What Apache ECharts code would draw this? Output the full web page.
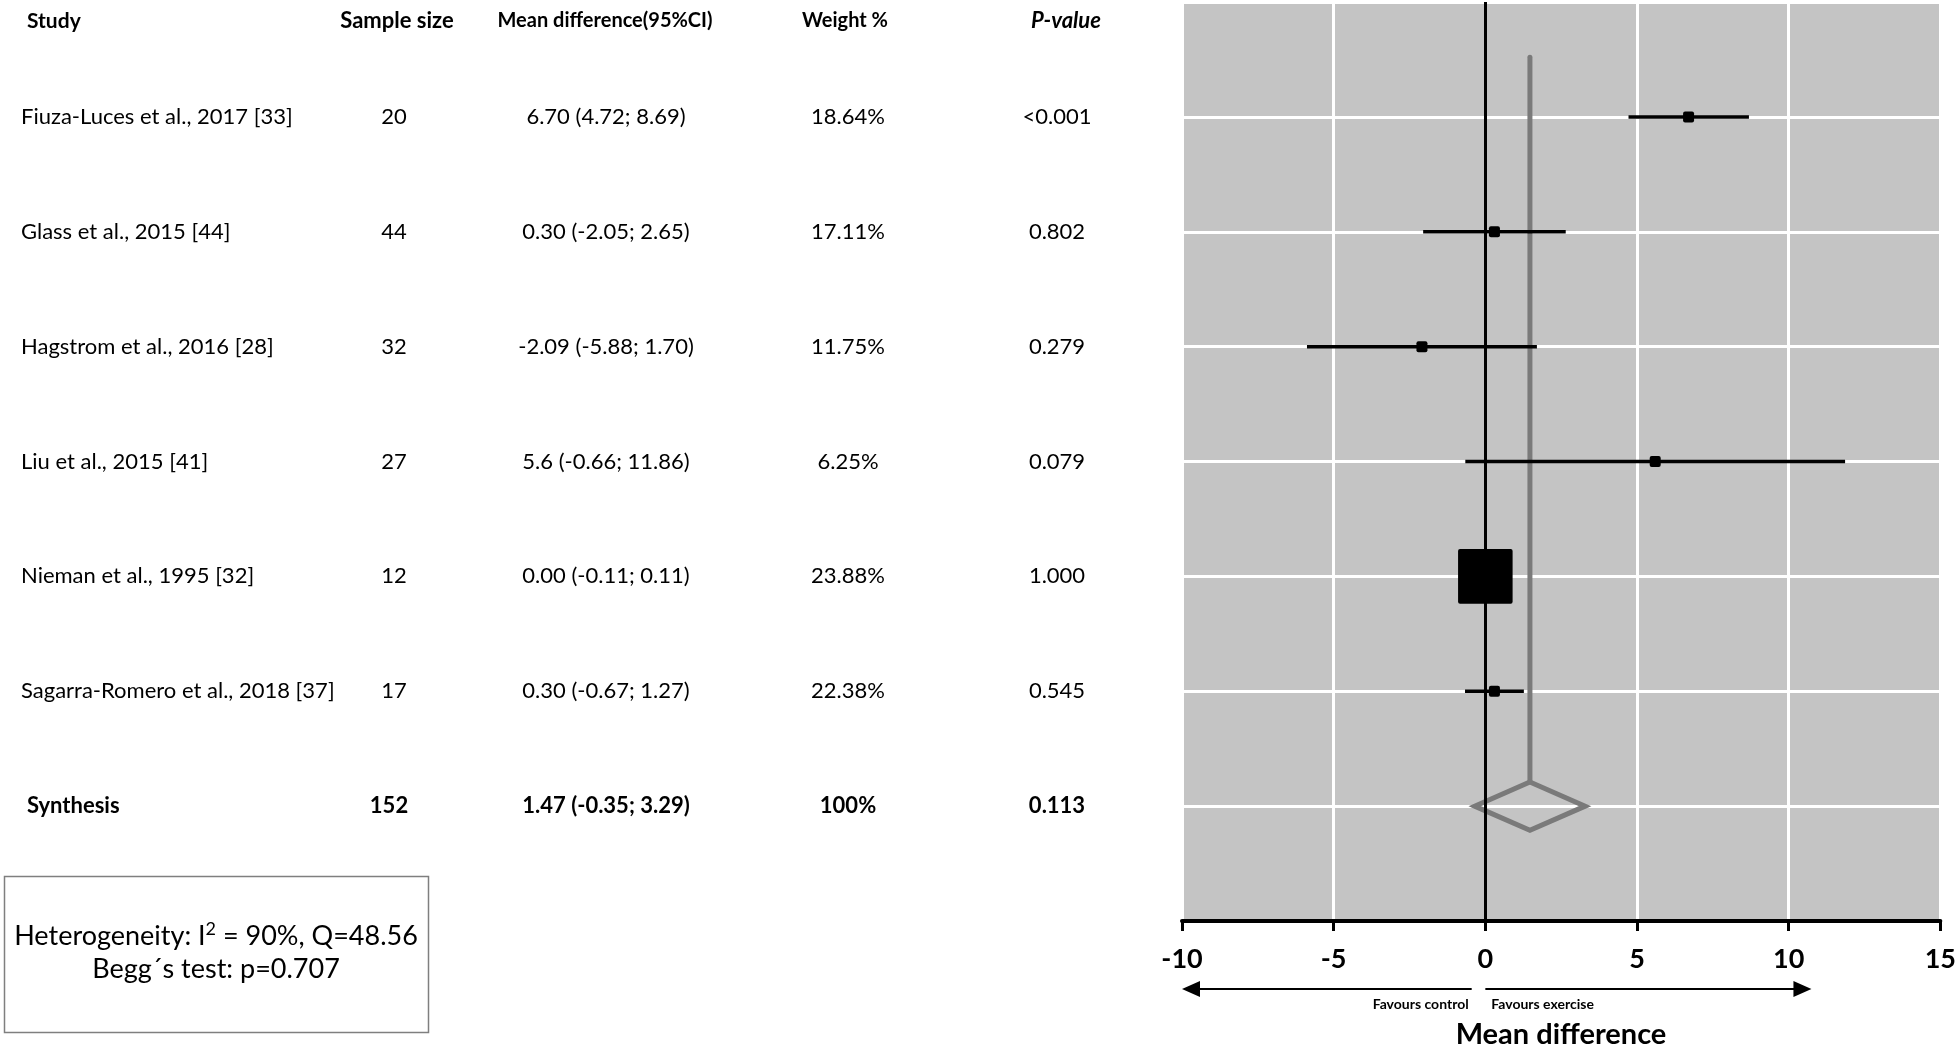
<!DOCTYPE html>
<html>
<head>
<meta charset="utf-8">
<script src="https://cdn.jsdelivr.net/npm/echarts@6/dist/echarts.min.js"></script>
<style>
  html, body { margin: 0; padding: 0; background: #fff; }
  #chart { width: 1959px; height: 1050px; }
</style>
</head>
<body>
<div id="chart"></div>
<script>
// study data
const studies = [
  "Fiuza-Luces et al., 2017 [33]",
  "Glass et al., 2015 [44]",
  "Hagstrom et al., 2016 [28]",
  "Liu et al., 2015 [41]",
  "Nieman et al., 1995 [32]",
  "Sagarra-Romero et al., 2018 [37]"
];
const sampleSizes = [20, 44, 32, 27, 12, 17];
const meanDiff = [6.70, 0.30, -2.09, 5.6, 0.00, 0.30];
const ciLow = [4.72, -2.05, -5.88, -0.66, -0.11, -0.67];
const ciHigh = [8.69, 2.65, 1.70, 11.86, 0.11, 1.27];
const meanDiffText = ["6.70 (4.72; 8.69)", "0.30 (-2.05; 2.65)", "-2.09 (-5.88; 1.70)", "5.6 (-0.66; 11.86)", "0.00 (-0.11; 0.11)", "0.30 (-0.67; 1.27)"];
const weights = ["18.64%", "17.11%", "11.75%", "6.25%", "23.88%", "22.38%"];
const pValues = ["<0.001", "0.802", "0.279", "0.079", "1.000", "0.545"];

// synthesis
const synthLabel = "Synthesis";
const synthN = 152;
const synthMean = 1.47;
const synthLow = -0.35;
const synthHigh = 3.29;
const synthText = "1.47 (-0.35; 3.29)";
const synthWeight = "100%";
const synthP = "0.113";

const xTicks = [-10, -5, 0, 5, 10, 15];

const FONT = "Lato, 'Open Sans', sans-serif";

const chart = echarts.init(document.getElementById("chart"), null, { renderer: "canvas" });

const studyData = studies.map((s, i) => [i + 1, meanDiff[i], ciLow[i], ciHigh[i]]);
const synthData = [[studies.length + 1, synthMean, synthLow, synthHigh]];

const option = {
  backgroundColor: "#ffffff",
  animation: false,
  grid: {
    left: 1182,
    right: 15,
    top: 2,
    bottom: 129,
    show: true,
    backgroundColor: "#c4c4c4",
    borderWidth: 0
  },
  xAxis: {
    type: "value",
    min: xTicks[0],
    max: xTicks[xTicks.length - 1],
    interval: 5,
    axisLine: { show: true, onZero: false, lineStyle: { color: "#000", width: 4 } },
    axisTick: { show: true, length: 10, lineStyle: { color: "#000", width: 3 } },
    axisLabel: {
      color: "#000",
      fontFamily: FONT,
      fontWeight: "bold",
      fontSize: 27,
      margin: 25,
      showMinLabel: true,
      showMaxLabel: true
    },
    splitLine: { show: true, lineStyle: { color: "#ffffff", width: 3 } }
  },
  yAxis: {
    type: "value",
    min: 0,
    max: 8,
    interval: 1,
    inverse: true,
    axisLine: { show: false },
    axisTick: { show: false },
    axisLabel: { show: false },
    splitLine: { show: true, lineStyle: { color: "#ffffff", width: 3 } }
  },
  series: [
    {
      // pooled estimate: vertical line + diamond
      type: "custom",
      z: 2,
      data: synthData,
      encode: { x: [1, 2, 3], y: 0 },
      renderItem: function (params, api) {
        const row = api.value(0);
        const top = api.coord([api.value(1), row - 0.21]);
        const bottom = api.coord([api.value(1), row + 0.21]);
        const left = api.coord([api.value(2), row]);
        const right = api.coord([api.value(3), row]);
        const lineTop = api.coord([api.value(1), 0.48]);
        return {
          type: "group",
          children: [
            {
              type: "line",
              shape: { x1: lineTop[0], y1: lineTop[1], x2: top[0], y2: top[1] },
              style: { stroke: "#7a7a7a", lineWidth: 5, lineCap: "round" }
            },
            {
              type: "polygon",
              shape: { points: [top, right, bottom, left] },
              style: { stroke: "#7a7a7a", lineWidth: 5, fill: null, lineJoin: "miter" }
            }
          ]
        };
      },
      markLine: {
        silent: true,
        symbol: "none",
        label: { show: false },
        lineStyle: { color: "#000", width: 3, type: "solid" },
        data: [{ xAxis: 0 }]
      }
    },
    {
      // individual studies: CI line + square
      type: "custom",
      z: 3,
      data: studyData,
      encode: { x: [1, 2, 3], y: 0 },
      renderItem: function (params, api) {
        const row = api.value(0);
        const lo = api.coord([api.value(2), row]);
        const hi = api.coord([api.value(3), row]);
        const c = api.coord([api.value(1), row]);
        const size = Math.max(11, 12 / (api.value(3) - api.value(2)));
        return {
          type: "group",
          children: [
            {
              type: "line",
              shape: { x1: lo[0], y1: lo[1], x2: hi[0], y2: hi[1] },
              style: { stroke: "#000", lineWidth: 3.5 }
            },
            {
              type: "rect",
              shape: { x: c[0] - size / 2, y: c[1] - size / 2, width: size, height: size, r: 2 },
              style: { fill: "#000" }
            }
          ]
        };
      }
    }
  ]
};

chart.setOption(option);

// table text + annotations, placed on the same rows as the plot
const rowY = (r) => chart.convertToPixel({ yAxisIndex: 0 }, r);
const xPx = (v) => chart.convertToPixel({ xAxisIndex: 0 }, v);

const cols = { study: 21, n: 394, md: 606, w: 848, p: 1057 };
const graphics = [];

function txt(x, y, text, align, extra) {
  graphics.push({
    type: "text",
    x: x,
    y: y,
    style: Object.assign({
      text: text,
      fill: "#000",
      font: "22px " + FONT,
      align: align,
      verticalAlign: "middle"
    }, extra || {})
  });
}

txt(27, 21, "Study", "left", { font: "bold 21px " + FONT });
txt(397, 21, "Sample size", "center", { font: "bold 22px " + FONT });
txt(605, 21, "Mean difference(95%CI)", "center", { font: "bold 20px " + FONT });
txt(845, 21, "Weight %", "center", { font: "bold 20px " + FONT });
txt(1066, 21, "P-value", "center", { font: "italic bold 22px " + FONT });

studies.forEach((s, i) => {
  const y = rowY(i + 1);
  txt(cols.study, y, s, "left");
  txt(cols.n, y, String(sampleSizes[i]), "center");
  txt(cols.md, y, meanDiffText[i], "center");
  txt(cols.w, y, weights[i], "center");
  txt(cols.p, y, pValues[i], "center");
});

const sy = rowY(studies.length + 1);
const bold = { font: "bold 22px " + FONT };
txt(27, sy, synthLabel, "left", bold);
txt(cols.n - 5, sy, String(synthN), "center", bold);
txt(cols.md, sy, synthText, "center", bold);
txt(cols.w, sy, synthWeight, "center", bold);
txt(cols.p, sy, synthP, "center", bold);

// heterogeneity box
graphics.push({
  type: "rect",
  shape: { x: 4.5, y: 876.5, width: 424, height: 156 },
  style: { fill: "#fff", stroke: "#7f7f7f", lineWidth: 1.5 }
});
graphics.push({
  type: "text",
  x: 216,
  y: 936,
  style: {
    text: "{a|Heterogeneity: I}{s|2}{a| = 90%, Q=48.56}",
    align: "center",
    verticalAlign: "middle",
    rich: {
      a: { font: "27px " + FONT, fill: "#000", lineHeight: 32 },
      s: { font: "18px " + FONT, fill: "#000", lineHeight: 18, verticalAlign: "top" }
    }
  }
});
txt(216, 969, "Begg\u00b4s test: p=0.707", "center", { font: "27px " + FONT });

// direction arrows under the axis
const arrowY = 989;
const lTip = xPx(-10), lEnd = xPx(-0.45);
const rStart = xPx(0.0), rTip = xPx(10.75);
graphics.push({
  type: "line",
  shape: { x1: lTip + 14, y1: arrowY, x2: lEnd, y2: arrowY },
  style: { stroke: "#000", lineWidth: 2 }
});
graphics.push({
  type: "polygon",
  shape: { points: [[lTip, arrowY], [lTip + 18, arrowY - 8], [lTip + 18, arrowY + 8]] },
  style: { fill: "#000" }
});
graphics.push({
  type: "line",
  shape: { x1: rStart, y1: arrowY, x2: rTip - 14, y2: arrowY },
  style: { stroke: "#000", lineWidth: 2 }
});
graphics.push({
  type: "polygon",
  shape: { points: [[rTip, arrowY], [rTip - 18, arrowY - 8], [rTip - 18, arrowY + 8]] },
  style: { fill: "#000" }
});
txt(lEnd - 3, 1004, "Favours control", "right", { font: "bold 14px " + FONT });
txt(rStart + 6, 1004, "Favours exercise", "left", { font: "bold 14px " + FONT });
txt(1561, 1035, "Mean difference", "center", { font: "bold 29px " + FONT });

chart.setOption({ graphic: graphics });
</script>
</body>
</html>
